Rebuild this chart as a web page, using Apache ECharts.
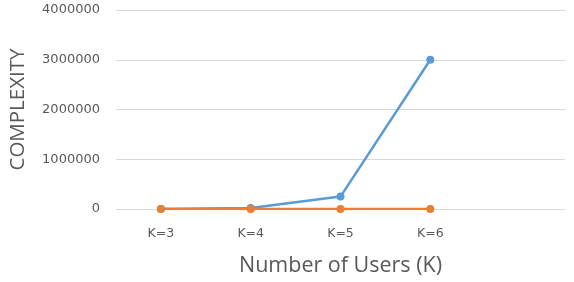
<!DOCTYPE html>
<html>
<head>
<meta charset="utf-8">
<script src="https://cdn.jsdelivr.net/npm/echarts@6/dist/echarts.min.js"></script>
<style>
    html, body { margin: 0; padding: 0; background: #fff; }
    #chart { width: 574px; height: 282px; }
</style>
</head>
<body>
<div id="chart"></div>
<script>
// categories (last slot is empty in the original plot)
const categories = ['K=3', 'K=4', 'K=5', 'K=6', '']
const blueValues = [0, 20000, 250000, 3000000]
const orangeValues = [0, 0, 0, 0]
const yTicks = { min: 0, max: 4000000, interval: 1000000 }

const labelColor = '#595959'
const gridColor = '#d9d9d9'

const chart = echarts.init(document.getElementById('chart'))
chart.setOption({
    animation: false,
    grid: {
        left: 116,
        right: 9,
        top: 10,
        bottom: 70
    },
    xAxis: {
        type: 'category',
        data: categories,
        boundaryGap: true,
        name: 'Number of Users (K)',
        nameLocation: 'middle',
        nameGap: 46,
        nameTextStyle: {
            color: labelColor,
            fontSize: 21.5,
            fontFamily: 'Open Sans'
        },
        axisTick: { show: false },
        axisLine: { show: false },
        axisLabel: {
            color: labelColor,
            fontSize: 12.5,
            margin: 18,
            fontFamily: 'DejaVu Sans'
        }
    },
    yAxis: {
        type: 'value',
        min: yTicks.min,
        max: yTicks.max,
        interval: yTicks.interval,
        name: 'COMPLEXITY',
        nameLocation: 'middle',
        nameGap: 87,
        nameTextStyle: {
            color: labelColor,
            fontSize: 20.5,
            fontFamily: 'Open Sans'
        },
        axisLine: { show: false },
        axisTick: { show: false },
        axisLabel: {
            color: labelColor,
            fontSize: 13,
            margin: 16,
            fontFamily: 'DejaVu Sans',
            formatter: (v) => String(v)
        },
        splitLine: {
            lineStyle: { color: gridColor, width: 1 }
        }
    },
    series: [
        {
            name: 'blue',
            type: 'line',
            data: blueValues,
            symbol: 'circle',
            symbolSize: 8,
            color: '#5b9bd5',
            lineStyle: { width: 2.5 }
        },
        {
            name: 'orange',
            type: 'line',
            data: orangeValues,
            symbol: 'circle',
            symbolSize: 8,
            color: '#ed7d31',
            lineStyle: { width: 2.5 }
        }
    ]
})
</script>
</body>
</html>
